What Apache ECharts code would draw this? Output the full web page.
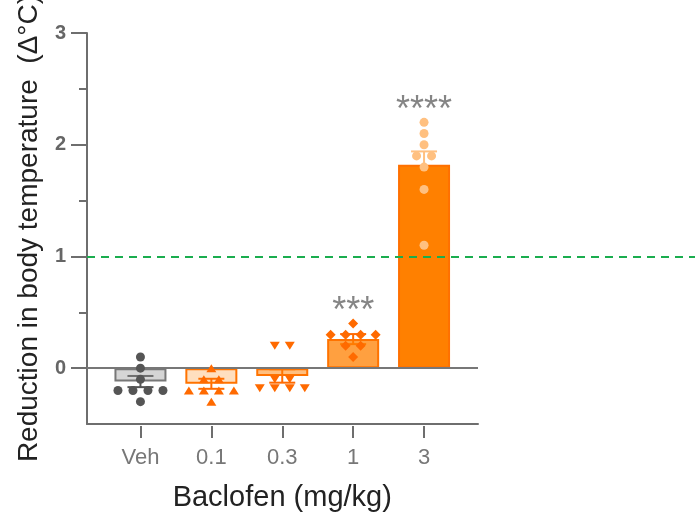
<!DOCTYPE html>
<html>
<head>
<meta charset="utf-8">
<script src="https://cdn.jsdelivr.net/npm/echarts@6/dist/echarts.min.js"></script>
<style>
  html, body { margin: 0; padding: 0; background: #fff; }
  #chart { width: 695px; height: 515px; }
</style>
</head>
<body>
<div id="chart"></div>
<script>
// Doses and group summaries (mean ± SEM)
const categories = ['Veh', '0.1', '0.3', '1', '3'];
const meanValues = [-0.12, -0.14, -0.07, 0.26, 1.82];
const semValues = [0.05, 0.045, 0.06, 0.045, 0.12];

// Individual animals per group
const pointsVeh = [0.1, 0, -0.1, -0.2, -0.2, -0.2, -0.2, -0.3];
const points01 = [0, -0.1, -0.1, -0.2, -0.2, -0.2, -0.2, -0.3];
const points03 = [0.2, 0.2, -0.1, -0.1, -0.18, -0.18, -0.18, -0.18];
const points1 = [0.4, 0.3, 0.3, 0.3, 0.3, 0.2, 0.2, 0.1];
const points3 = [2.2, 2.1, 2.0, 1.9, 1.9, 1.8, 1.6, 1.1];

// Significance vs vehicle
const sigLabels = ['', '', '', '***', '****'];

// Axis ticks and reference threshold
const yMajorTicks = [0, 1, 2, 3];
const yMinorTicks = [0.5, 1.5, 2.5];
const thresholdValue = 1;

// ---- styling ----
const FONT = 'Liberation Sans, Arial, sans-serif';
const AXIS_GRAY = '#6e6e6e';
const barFills = ['rgba(150,150,150,0.4)', 'rgba(255,128,0,0.25)', 'rgba(255,128,0,0.5)', 'rgba(255,128,0,0.75)', '#ff8000'];
const barBorders = ['#777777', '#ff7300', '#ff7300', '#ff7300', '#ff7000'];
const pointColors = ['#555555', '#ff6a00', '#ff6a00', '#ff6a00', '#ffc080'];
const pointSymbols = ['circle', 'triangle', 'triangle', 'diamond', 'circle'];
const pointRotate = [0, 0, 180, 0, 0];
const pointSizes = [9, [10, 8], [10, 8], 10, 9];
const SWARM_STEP = 15;
const Y_MIN = -0.5, Y_MAX = 3;

const pointGroups = [pointsVeh, points01, points03, points1, points3];

// spread equal values side by side (simple beeswarm)
function swarmOffsets(values) {
  const counts = {}, seen = {};
  values.forEach(v => { counts[v] = (counts[v] || 0) + 1; });
  return values.map(v => {
    const k = seen[v] || 0;
    seen[v] = k + 1;
    return (k - (counts[v] - 1) / 2) * SWARM_STEP;
  });
}

const scatterSeries = pointGroups.map((vals, gi) => {
  const offs = swarmOffsets(vals);
  return {
    type: 'scatter',
    xAxisIndex: 1,
    yAxisIndex: 2,
    z: 6,
    symbol: pointSymbols[gi],
    symbolRotate: pointRotate[gi],
    symbolSize: pointSizes[gi],
    itemStyle: { color: pointColors[gi], opacity: 1 },
    data: vals.map((v, i) => ({ value: [gi, v], symbolOffset: [offs[i], 0] }))
  };
});

const chart = echarts.init(document.getElementById('chart'), null, { renderer: 'canvas' });

const gridCommon = { top: 33, bottom: 91, containLabel: false, outerBoundsMode: 'none' };

chart.setOption({
  animation: false,
  backgroundColor: '#ffffff',
  textStyle: { fontFamily: FONT },
  grid: [
    Object.assign({ left: 87, right: 217 }, gridCommon),
    Object.assign({ left: 105, right: 235.5 }, gridCommon),
    Object.assign({ left: 87, right: 0 }, gridCommon)
  ],
  xAxis: [
    {
      gridIndex: 0, type: 'value', min: 0, max: 1, position: 'bottom',
      axisLine: { show: true, onZero: false, lineStyle: { color: AXIS_GRAY, width: 2 } },
      axisTick: { show: false }, axisLabel: { show: false }, splitLine: { show: false }
    },
    {
      gridIndex: 1, type: 'category', data: categories, offset: 2, position: 'bottom',
      axisLine: { show: false, onZero: false },
      axisTick: { show: true, alignWithLabel: true, length: 12, lineStyle: { color: AXIS_GRAY, width: 2 } },
      axisLabel: { fontSize: 22, color: '#777777', margin: 21, fontFamily: FONT },
      name: 'Baclofen (mg/kg)', nameLocation: 'middle', nameGap: 57,
      nameTextStyle: { fontSize: 29, color: '#222222', fontFamily: FONT }
    },
    { gridIndex: 2, type: 'value', min: 0, max: 1, show: false }
  ],
  yAxis: [
    {
      gridIndex: 0, type: 'value', min: Y_MIN, max: Y_MAX, position: 'left',
      axisLine: { show: true, onZero: false, lineStyle: { color: AXIS_GRAY, width: 2 } },
      axisTick: { show: true, customValues: yMinorTicks, length: 8, lineStyle: { color: AXIS_GRAY, width: 2 } },
      axisLabel: { show: false }, splitLine: { show: false }
    },
    {
      gridIndex: 0, type: 'value', min: Y_MIN, max: Y_MAX, position: 'left', offset: 0,
      axisLine: { show: false, onZero: false },
      axisTick: { show: true, customValues: yMajorTicks, length: 16, lineStyle: { color: AXIS_GRAY, width: 2 } },
      axisLabel: { customValues: yMajorTicks, fontSize: 20, fontWeight: 'bold', color: '#666666', margin: 21, fontFamily: FONT },
      splitLine: { show: false },
      name: 'Reduction in body temperature  (\u0394\u00b0C)', nameLocation: 'middle', nameGap: 44,
      nameTextStyle: { fontSize: 28, color: '#222222', fontFamily: FONT }
    },
    { gridIndex: 1, type: 'value', min: Y_MIN, max: Y_MAX, show: false },
    { gridIndex: 2, type: 'value', min: Y_MIN, max: Y_MAX, show: false }
  ],
  series: [
    // zero baseline across the plot
    {
      type: 'line', xAxisIndex: 0, yAxisIndex: 0, data: [], z: 1,
      markLine: {
        silent: true, symbol: 'none', label: { show: false },
        lineStyle: { color: '#777777', width: 2, type: 'solid' },
        data: [{ yAxis: 0 }]
      }
    },
    // group means
    {
      type: 'bar', xAxisIndex: 1, yAxisIndex: 2, barWidth: 52, z: 3,
      data: meanValues.map((v, i) => ({
        value: v,
        itemStyle: { color: barFills[i], borderColor: barBorders[i], borderWidth: 2 }
      }))
    },
    // SEM error bars
    {
      type: 'custom', xAxisIndex: 1, yAxisIndex: 2, z: 2,
      data: meanValues.map((m, i) => [i, m - semValues[i], m + semValues[i]]),
      renderItem: function (params, api) {
        const i = api.value(0);
        const lo = api.coord([i, api.value(1)]);
        const hi = api.coord([i, api.value(2)]);
        const hw = 13;
        const style = { stroke: pointColors[i], lineWidth: 2, fill: null };
        return {
          type: 'group',
          children: [
            { type: 'line', shape: { x1: lo[0], y1: lo[1], x2: hi[0], y2: hi[1] }, style: style },
            { type: 'line', shape: { x1: lo[0] - hw, y1: lo[1], x2: lo[0] + hw, y2: lo[1] }, style: style },
            { type: 'line', shape: { x1: hi[0] - hw, y1: hi[1], x2: hi[0] + hw, y2: hi[1] }, style: style }
          ]
        };
      }
    },
    ...scatterSeries,
    // significance markers above each group
    {
      type: 'scatter', xAxisIndex: 1, yAxisIndex: 2, z: 7,
      symbolSize: 1,
      itemStyle: { color: 'transparent' },
      data: pointGroups.map((vals, i) => [i, Math.max(...vals)]),
      label: {
        show: true, position: 'inside', offset: [0, -11],
        fontSize: 36, color: '#666666', fontFamily: FONT,
        formatter: p => sigLabels[p.dataIndex]
      }
    },
    // threshold reference line
    {
      type: 'line', xAxisIndex: 2, yAxisIndex: 3, data: [], z: 10,
      markLine: {
        silent: true, symbol: 'none', label: { show: false },
        lineStyle: { color: '#1aad4e', width: 2, type: [8, 6] },
        data: [{ yAxis: thresholdValue }]
      }
    }
  ]
});
</script>
</body>
</html>
